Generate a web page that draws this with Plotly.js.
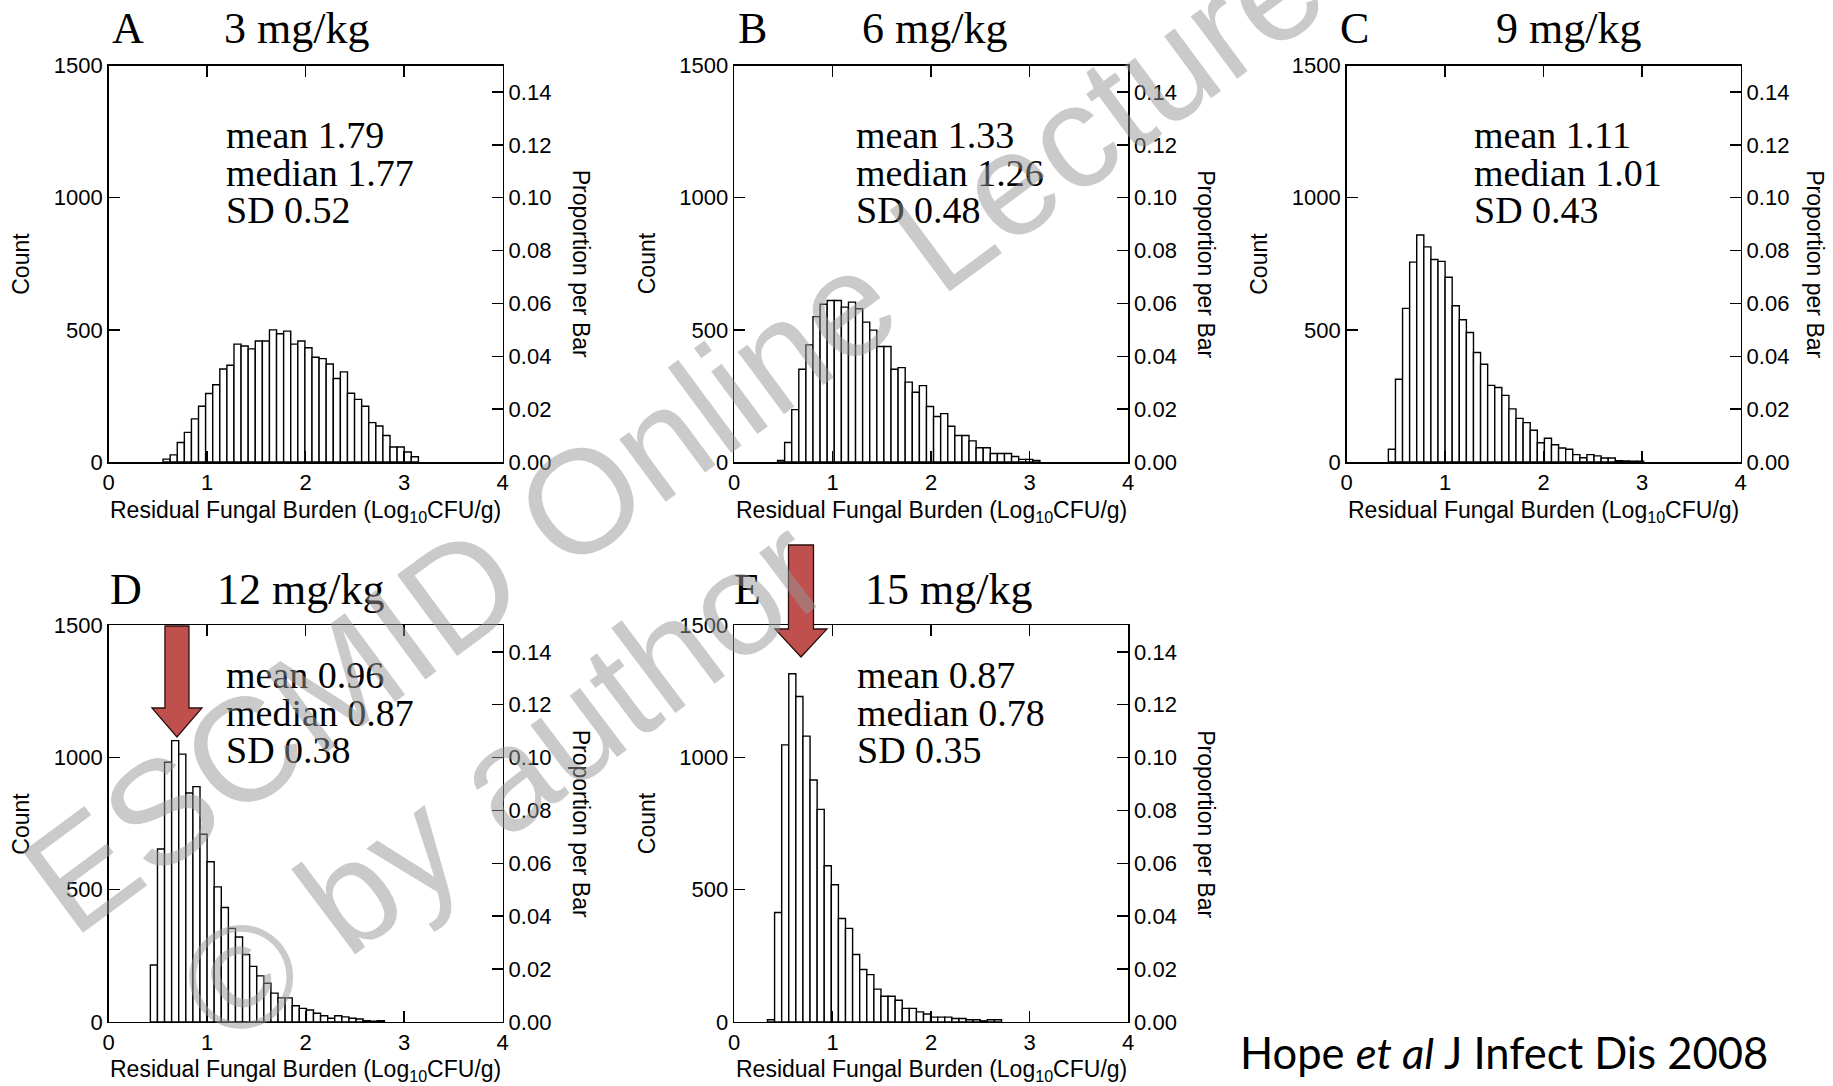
<!DOCTYPE html>
<html><head><meta charset="utf-8">
<script src="https://cdn.plot.ly/plotly-3.0.1.min.js"></script>
<style>html,body{margin:0;padding:0;background:#fff}#chart{width:1833px;height:1086px}</style>
</head><body><div id="chart"></div>
<script>
// ---------------- DATA ----------------
const panelLetters = ['A', 'B', 'C', 'D', 'E'];
const doseLabels = ['3 mg/kg', '6 mg/kg', '9 mg/kg', '12 mg/kg', '15 mg/kg'];
const statMean = ['1.79', '1.33', '1.11', '0.96', '0.87'];
const statMedian = ['1.77', '1.26', '1.01', '0.87', '0.78'];
const statSD = ['0.52', '0.48', '0.43', '0.38', '0.35'];

const binWidth = 0.072;                       // log10 CFU/g per bar
const binStart = [0.552, 0.44, 0.423, 0.423, 0.338];

const countsA = [11, 27, 74, 112, 163, 211, 259, 292, 352, 366, 446, 439, 428, 458, 458, 500, 485, 495, 446, 458,
                 432, 396, 391, 371, 316, 341, 260, 237, 211, 149, 136, 100, 57, 57, 38, 20];
const countsB = [6, 74, 198, 351, 443, 550, 597, 611, 611, 586, 605, 580, 529, 499, 437, 437, 351, 357, 302, 264,
                 289, 210, 172, 183, 135, 100, 100, 80, 54, 54, 32, 32, 32, 21, 10, 10, 6];
const countsC = [48, 313, 581, 756, 859, 814, 766, 759, 699, 591, 538, 490, 414, 370, 290, 282, 252, 201, 165, 149,
                 120, 73, 90, 65, 53, 48, 28, 16, 28, 23, 15, 15, 5, 4, 3, 3];
const countsD = [215, 654, 982, 1064, 1013, 866, 890, 710, 606, 511, 433, 354, 321, 255, 210, 174, 146, 109, 91, 91,
                 61, 51, 45, 33, 23, 14, 23, 19, 14, 11, 5, 3, 5];
const countsE = [8, 414, 1048, 1317, 1231, 1081, 915, 804, 591, 519, 391, 354, 255, 198, 179, 124, 97, 97, 82, 51,
                 51, 38, 30, 18, 18, 18, 13, 13, 8, 8, 4, 8, 8];
const allCounts = [countsA, countsB, countsC, countsD, countsE];

const totalSims = 10000;
const xTickVals = [0, 1, 2, 3, 4];
const countTickVals = [0, 500, 1000, 1500];
const propTickVals = [0, 0.02, 0.04, 0.06, 0.08, 0.10, 0.12, 0.14];

const xTitleText = 'Residual Fungal Burden (Log<sub>10</sub>CFU/g)';
const yLeftTitle = 'Count';
const yRightTitle = 'Proportion per Bar';
const citationText = 'Hope <i>et al</i> J Infect Dis 2008';
const watermarkLine1 = 'ESCMID Online Lecture Library';
const watermarkLine2 = '\u00A9 by author';
// arrows point at the modal bar of panels D and E (x in log10 CFU/g)
const arrowPanels = [3, 4];
const arrowTargetX = [0.693, 0.678];

// ---------------- LAYOUT GEOMETRY ----------------
const W = 1833, H = 1086;
const PW = 394, PH = 396.5;
const boxes = [
  {l: 108.7, t: 65.5}, {l: 734.2, t: 65.5}, {l: 1346.7, t: 65.5},
  {l: 108.7, t: 625.4}, {l: 734.2, t: 625.4}
];
const letterX = [110, 736, 1338, 108, 732];
const titleX = [222, 860, 1494, 215, 863];
const statX = [224, 854, 1472, 224, 855];
const countTitleX = [21, 646.5, 1259, 21, 646.5];
const rightTitleX = [581, 1206.5, 1815.5, 581, 1206.5];

const px = x => x / W;
const py = y => 1 - y / H;

const sansFont = 'Liberation Sans, Arial, sans-serif';
const serifFont = 'Liberation Serif, Times New Roman, serif';
const tickFont = {family: sansFont, size: 22, color: '#000'};

const data = [];
const layout = {
  width: W, height: H,
  margin: {l: 0, r: 0, t: 0, b: 0},
  paper_bgcolor: '#fff', plot_bgcolor: 'rgba(0,0,0,0)',
  showlegend: false,
  bargap: 0,
  annotations: [],
  shapes: []
};

allCounts.forEach((counts, i) => {
  const n = i + 1;
  const xa = 'x' + n, ya = 'y' + n, ya2 = 'y' + (n + 5);
  const b = boxes[i];
  const xs = counts.map((_, k) => binStart[i] + (k + 0.5) * binWidth);
  data.push({
    type: 'bar', x: xs, y: counts, width: counts.map(() => binWidth),
    xaxis: xa, yaxis: ya,
    marker: {color: '#fff', line: {color: '#000', width: 1.4}},
    hoverinfo: 'x+y'
  });
  data.push({
    type: 'scatter', mode: 'markers', x: [xs[0]], y: [counts[0] / totalSims],
    xaxis: xa, yaxis: ya2, marker: {size: 1, color: 'rgba(0,0,0,0)'}, hoverinfo: 'skip'
  });
  const common = {
    showgrid: false, zeroline: false, showline: true, linecolor: '#000', linewidth: 1.5,
    ticks: 'inside', ticklen: 11, tickwidth: 1.5, tickcolor: '#000', tickfont: tickFont, fixedrange: true
  };
  layout['xaxis' + n] = Object.assign({}, common, {
    domain: [px(b.l), px(b.l + PW)], range: [0, 4], anchor: ya,
    tickvals: xTickVals, ticktext: xTickVals.map(String), mirror: 'ticks'
  });
  layout['yaxis' + n] = Object.assign({}, common, {
    domain: [py(b.t + PH), py(b.t)], range: [0, 1500], anchor: xa,
    tickvals: countTickVals, ticktext: countTickVals.map(String)
  });
  layout['yaxis' + (n + 5)] = Object.assign({}, common, {
    overlaying: ya, side: 'right', anchor: xa, range: [0, 1500 / totalSims],
    tickvals: propTickVals, ticktext: propTickVals.map(v => v.toFixed(2))
  });

  const ann = layout.annotations;
  const topRow = i < 3;
  const titleY = topRow ? 29 : 589;
  ann.push({xref: 'paper', yref: 'paper', x: px(letterX[i]), y: py(titleY), xanchor: 'left', yanchor: 'middle',
            text: panelLetters[i], showarrow: false, font: {family: serifFont, size: 44, color: '#000'}});
  ann.push({xref: 'paper', yref: 'paper', x: px(titleX[i]), y: py(titleY), xanchor: 'left', yanchor: 'middle',
            text: doseLabels[i], showarrow: false, font: {family: serifFont, size: 44, color: '#000'}});
  const sy = topRow ? [134.5, 173, 210] : [675, 713, 750];
  const lines = ['mean ' + statMean[i], 'median ' + statMedian[i], 'SD ' + statSD[i]];
  lines.forEach((t, k) => ann.push({xref: 'paper', yref: 'paper', x: px(statX[i]), y: py(sy[k]),
            xanchor: 'left', yanchor: 'middle', text: t, showarrow: false,
            font: {family: serifFont, size: 38, color: '#000'}}));
  ann.push({xref: 'paper', yref: 'paper', x: px(b.l + PW / 2), y: py(b.t + PH + 49), xanchor: 'center', yanchor: 'middle',
            text: xTitleText, showarrow: false, font: {family: sansFont, size: 23, color: '#000'}});
  ann.push({xref: 'paper', yref: 'paper', x: px(countTitleX[i]), y: py(b.t + PH / 2), xanchor: 'center', yanchor: 'middle',
            text: yLeftTitle, textangle: -90, showarrow: false, font: {family: sansFont, size: 23, color: '#000'}});
  ann.push({xref: 'paper', yref: 'paper', x: px(rightTitleX[i]), y: py(b.t + PH / 2), xanchor: 'center', yanchor: 'middle',
            text: yRightTitle, textangle: 90, showarrow: false, font: {family: sansFont, size: 23, color: '#000'}});
});

// red arrows (panels D and E)
const arrowGeom = [
  {tipY: 737, headTop: 708, shaftTop: 626, shaftW: 24, headW: 50},
  {tipY: 657, headTop: 629, shaftTop: 545, shaftW: 25, headW: 52}
];
arrowPanels.forEach((p, j) => {
  const b = boxes[p];
  const cx = b.l + arrowTargetX[j] / 4 * PW;
  const g = arrowGeom[j];
  const pts = [
    [cx - g.shaftW / 2, g.shaftTop], [cx + g.shaftW / 2, g.shaftTop], [cx + g.shaftW / 2, g.headTop],
    [cx + g.headW / 2, g.headTop], [cx, g.tipY], [cx - g.headW / 2, g.headTop], [cx - g.shaftW / 2, g.headTop]
  ];
  const path = 'M ' + pts.map(q => px(q[0]).toFixed(5) + ',' + py(q[1]).toFixed(5)).join(' L ') + ' Z';
  layout.shapes.push({type: 'path', xref: 'paper', yref: 'paper', path: path,
                      fillcolor: '#C0504D', line: {color: '#2b0f0f', width: 1.3}, layer: 'above'});
});

// citation
layout.annotations.push({xref: 'paper', yref: 'paper', x: px(1504), y: py(1052), xanchor: 'center', yanchor: 'middle',
  text: citationText, showarrow: false, font: {family: 'Lato, Open Sans, sans-serif', size: 43.5, color: '#000'}});

// watermark
layout.annotations.push({xref: 'paper', yref: 'paper', x: px(870), y: py(287), xanchor: 'center', yanchor: 'middle',
  text: watermarkLine1, textangle: -36.5, showarrow: false,
  font: {family: sansFont, size: 147, color: 'rgba(150,150,150,0.5)'}});
layout.annotations.push({xref: 'paper', yref: 'paper', x: px(502), y: py(780), xanchor: 'center', yanchor: 'middle',
  text: watermarkLine2, textangle: -37, showarrow: false,
  font: {family: sansFont, size: 147, color: 'rgba(150,150,150,0.5)'}});

Plotly.newPlot('chart', data, layout, {staticPlot: true, displayModeBar: false});
</script>
</body></html>
